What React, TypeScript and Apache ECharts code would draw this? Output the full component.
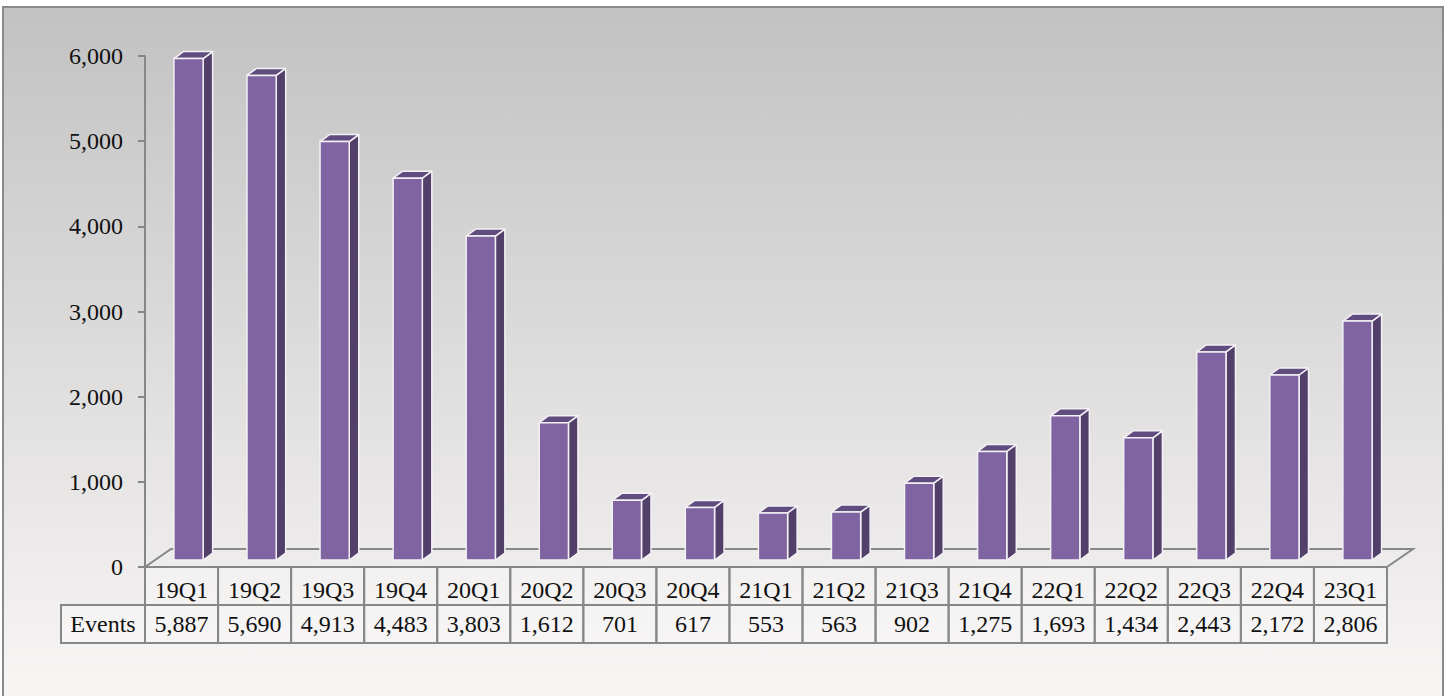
import React, { useEffect, useRef } from "react";
import * as echarts from "echarts";

const categories = ["19Q1", "19Q2", "19Q3", "19Q4", "20Q1", "20Q2", "20Q3", "20Q4", "21Q1", "21Q2", "21Q3", "21Q4", "22Q1", "22Q2", "22Q3", "22Q4", "23Q1"];
const events = [5887, 5690, 4913, 4483, 3803, 1612, 701, 617, 553, 563, 902, 1275, 1693, 1434, 2443, 2172, 2806];
const seriesName = "Events";
const yMin = 0;
const yMax = 6000;
const yInterval = 1000;

const FONT_FAMILY = "Liberation Serif, serif";
const FONT_SIZE = 24;
const LINE = "#878787";
const fmt = (v: number) => v.toLocaleString("en-US");

export default function App() {
  const ref = useRef<HTMLDivElement>(null);

  useEffect(() => {
    const chart = echarts.init(ref.current!, null, { renderer: "svg" });

    const textStyle = (text: string, x: number, y: number) => ({
      text,
      x,
      y,
      align: "center",
      verticalAlign: "middle",
      fontFamily: FONT_FAMILY,
      fontSize: FONT_SIZE,
      fill: "#111",
    });

    const floorSeries = {
      type: "custom",
      name: "floor",
      clip: false,
      silent: true,
      z: 1,
      data: [[0, 0]],
      encode: { x: 0, y: 1 },
      renderItem: (params: any, api: any) => {
        const first = api.coord([0, 0]);
        const last = api.coord([categories.length - 1, 0]);
        const band = api.size([1, 0])[0];
        const L = first[0] - band / 2;
        const R = last[0] + band / 2;
        const y = first[1];
        const dx = 26;
        const dy = 18;
        return {
          type: "group",
          children: [
            {
              type: "polyline",
              shape: { points: [[L, y], [L + dx, y - dy], [R + dx, y - dy], [R, y]] },
              style: { stroke: LINE, lineWidth: 2, fill: null },
            },
            {
              type: "line",
              shape: { x1: L, y1: y, x2: R, y2: y },
              style: { stroke: LINE, lineWidth: 2 },
            },
          ],
        };
      },
    };

    const barSeries = {
      type: "custom",
      name: seriesName,
      clip: false,
      z: 3,
      data: events.map((v, i) => [i, v]),
      encode: { x: 0, y: 1 },
      renderItem: (params: any, api: any) => {
        const idx = api.value(0);
        const val = api.value(1);
        const base = api.coord([idx, 0]);
        const top = api.coord([idx, val]);
        const band = api.size([1, 0])[0];
        const w = band * 0.4;
        const shiftX = 7;
        const shiftY = 7;
        const x0 = base[0] - w / 2 + shiftX;
        const x1 = x0 + w;
        const yb = base[1] - shiftY;
        const yt = top[1] - shiftY;
        const dx = 9.5;
        const dy = 7;
        const edge = { stroke: "#f3f1f5", lineWidth: 1.5, lineJoin: "round" };
        return {
          type: "group",
          children: [
            {
              type: "polygon",
              shape: { points: [[x1, yt], [x1 + dx, yt - dy], [x1 + dx, yb - dy], [x1, yb]] },
              style: { fill: "#523f6a", ...edge },
            },
            {
              type: "polygon",
              shape: { points: [[x0, yt], [x0 + dx, yt - dy], [x1 + dx, yt - dy], [x1, yt]] },
              style: { fill: "#614c7f", ...edge },
            },
            {
              type: "rect",
              shape: { x: x0, y: yt, width: w, height: yb - yt },
              style: { fill: "#8064a2", ...edge },
            },
          ],
        };
      },
    };

    const tableSeries = {
      type: "custom",
      name: "table",
      clip: false,
      silent: true,
      z: 2,
      data: events.map((v, i) => [i, v]),
      encode: { x: 0, y: 1 },
      renderItem: (params: any, api: any) => {
        const idx = api.value(0);
        const val = api.value(1);
        const base = api.coord([idx, 0]);
        const band = api.size([1, 0])[0];
        const L = base[0] - band / 2;
        const y0 = base[1];
        const rowH = 38;
        const cellStyle = { fill: "rgba(255,255,255,0.25)", stroke: LINE, lineWidth: 2 };
        const children: any[] = [
          { type: "rect", shape: { x: L, y: y0, width: band, height: rowH }, style: cellStyle },
          { type: "rect", shape: { x: L, y: y0 + rowH, width: band, height: rowH }, style: cellStyle },
          { type: "text", style: textStyle(categories[idx], base[0], y0 + rowH / 2 + 4) },
          { type: "text", style: textStyle(fmt(val), base[0], y0 + rowH * 1.5) },
        ];
        if (idx === 0) {
          const hw = 84;
          children.push(
            { type: "rect", shape: { x: L - hw, y: y0 + rowH, width: hw, height: rowH }, style: cellStyle },
            { type: "text", style: textStyle(seriesName, L - hw / 2, y0 + rowH * 1.5) }
          );
        }
        return { type: "group", children };
      },
    };

    const option: any = {
      animation: false,
      backgroundColor: "#ffffff",
      textStyle: { fontFamily: FONT_FAMILY },
      graphic: [
        {
          type: "rect",
          z: -100,
          silent: true,
          shape: { x: 3, y: 7, width: 1440, height: 700 },
          style: {
            fill: new echarts.graphic.LinearGradient(0, 0, 0, 1, [
              { offset: 0, color: "#c2c2c2" },
              { offset: 1, color: "#f9f7f6" },
            ]),
            stroke: "#8a8a8a",
            lineWidth: 2,
          },
        },
      ],
      grid: { left: 145, right: 63, top: 56, bottom: 129, containLabel: false },
      xAxis: {
        type: "category",
        data: categories,
        axisLine: { show: false },
        axisTick: { show: false },
        axisLabel: { show: false },
        splitLine: { show: false },
      },
      yAxis: {
        type: "value",
        min: yMin,
        max: yMax,
        interval: yInterval,
        axisLine: { show: true, lineStyle: { color: LINE, width: 2 } },
        axisTick: { show: true, length: 7, lineStyle: { color: LINE, width: 2 } },
        splitLine: { show: false },
        axisLabel: {
          margin: 22,
          fontFamily: FONT_FAMILY,
          fontSize: FONT_SIZE,
          color: "#111",
          formatter: (v: number) => fmt(v),
        },
      },
      series: [floorSeries, tableSeries, barSeries],
    };

    chart.setOption(option);
    return () => chart.dispose();
  }, []);

  return <div ref={ref} style={{ position: "absolute", left: 0, top: 0, width: 1450, height: 696 }} />;
}
